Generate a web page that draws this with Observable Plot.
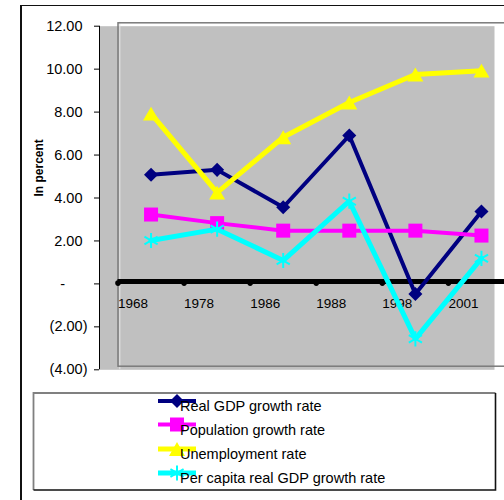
<!DOCTYPE html>
<html>
<head>
<meta charset="utf-8">
<script src="https://cdn.jsdelivr.net/npm/d3@7"></script>
<script src="https://cdn.jsdelivr.net/npm/@observablehq/plot@0.6"></script>
<style>
  html, body { margin: 0; padding: 0; background: #fff; overflow: hidden; width: 504px; height: 500px; }
  #outer { position: absolute; left: 20px; top: 5px; width: 700px; height: 700px;
           border-left: 2px solid #111; border-top: 1.5px solid #111; }
  #chart { position: absolute; left: 0; top: 0; width: 520px; }
  #chart svg { max-width: none !important; height: 390px !important; }
  #legend { position: absolute; left: 0; top: 0; }
</style>
</head>
<body>
<div id="outer"></div>
<div id="chart"></div>
<div id="legend"></div>
<script>
// Growth and unemployment indicators, in percent
const years = ["1968", "1978", "1986", "1988", "1998", "2001"];
const realGdp      = [5.08, 5.31, 3.57, 6.91, -0.47, 3.37];
const population   = [3.23, 2.83, 2.48, 2.48, 2.48, 2.25];
const unemployment = [7.93, 4.25, 6.83, 8.45, 9.75, 9.93];
const perCapitaGdp = [2.02, 2.55, 1.09, 3.85, -2.56, 1.19];
const seriesNames = ["Real GDP growth rate", "Population growth rate", "Unemployment rate", "Per capita real GDP growth rate"];
const yTicks = [12, 10, 8, 6, 4, 2, 0, -2, -4];

const font = "Arial, 'Liberation Sans', sans-serif";

// Marker shapes centred on their bounding box
const diamond = {
  draw(ctx, size) {
    const s = Math.sqrt(size / 2);
    ctx.moveTo(0, -s); ctx.lineTo(s, 0); ctx.lineTo(0, s); ctx.lineTo(-s, 0); ctx.closePath();
  }
};
const triangle = {
  draw(ctx, size) {
    const side = Math.sqrt(size * 4 / Math.sqrt(3));
    const h = side * Math.sqrt(3) / 2;
    ctx.moveTo(0, -h / 2); ctx.lineTo(side / 2, h / 2); ctx.lineTo(-side / 2, h / 2); ctx.closePath();
  }
};
const square = {
  draw(ctx, size) {
    const s = Math.sqrt(size) / 2;
    ctx.rect(-s, -s, 2 * s, 2 * s);
  }
};

const seriesValues = [realGdp, population, unemployment, perCapitaGdp];
const seriesStyle = [
  {color: "#000080", symbol: diamond,    r: 5.6,  lineWidth: 4, filled: true},
  {color: "#ff00ff", symbol: square,     r: 7.9,  lineWidth: 4, filled: true},
  {color: "#ffff00", symbol: triangle,   r: 5.95, lineWidth: 5, filled: true},
  {color: "#00ffff", symbol: "asterisk", r: 7.2,  lineWidth: 5, filled: false}
];

const rows = seriesNames.map((name, k) =>
  seriesValues[k].map((v, i) => ({series: name, year: years[i], pos: i + 0.5, value: v}))
);

const seriesMarks = rows.flatMap((data, k) => {
  const s = seriesStyle[k];
  return [
    Plot.line(data, {x: "pos", y: "value", stroke: s.color, strokeWidth: s.lineWidth, strokeLinejoin: "miter"}),
    s.filled
      ? Plot.dot(data, {x: "pos", y: "value", symbol: s.symbol, r: s.r, fill: s.color, stroke: "none"})
      : Plot.dot(data, {x: "pos", y: "value", symbol: s.symbol, r: s.r, fill: "none", stroke: s.color, strokeWidth: 2})
  ];
});

const plot = Plot.plot({
  width: 514,
  height: 390,
  marginLeft: 117.5,
  marginRight: 0,
  marginTop: 25.7,
  marginBottom: 20.7,
  x: {domain: [0, 6], axis: null},
  y: {domain: [-4, 12], axis: null},
  style: {fontFamily: font, fontSize: "14px", color: "#000", background: "transparent",
          overflow: "visible", maxWidth: "none"},
  marks: [
    // grey plot area, reaching back to the value axis
    Plot.frame({fill: "#c0c0c0", stroke: "none", insetLeft: -18.5, insetRight: 20}),
    // inner panel outline with a light edge inside it
    Plot.ruleX([0], {y1: -4, y2: 12, dx: 1.8, insetBottom: 4, stroke: "#e6e6e6", strokeWidth: 1}),
    Plot.frame({fill: "none", stroke: "#7a7a7a", strokeWidth: 1.5, insetTop: -3.4, insetBottom: 3.6, insetRight: -20}),
    // value axis
    Plot.ruleX([0], {y1: -4, y2: 12, dx: -18.5, stroke: "#000", strokeWidth: 1}),
    Plot.axisY({ticks: yTicks, tickSize: 5, tickFormat: () => "", dx: -18.5, label: null}),
    Plot.axisY({ticks: yTicks.filter(d => d > 0), tickSize: 0, tickPadding: 17, dx: -18.5,
                tickFormat: d3.format(".2f"), fontSize: 14.5, label: null}),
    Plot.axisY({ticks: yTicks.filter(d => d < 0), tickSize: 0, tickPadding: 12, dx: -18.5,
                tickFormat: d => `(${Math.abs(d).toFixed(2)})`, fontSize: 14.5, label: null}),
    Plot.axisY({ticks: [0], tickSize: 0, tickPadding: 34.5, dx: -18.5,
                tickFormat: () => "-", fontSize: 14.5, label: null}),
    Plot.text(["In percent"], {frameAnchor: "left", rotate: -90, dx: -78.5, dy: -1.5,
                               fontWeight: "bold", fontSize: 12}),
    // category axis drawn along zero
    Plot.ruleY([0], {stroke: "#000", strokeWidth: 5, dy: -2.5}),
    Plot.dot(years, {x: (d, i) => i, y: () => 0, r: 2.8, fill: "#000", stroke: "none", dy: -0.8}),
    Plot.text(years, {x: (d, i) => i, y: () => 0, text: d => d, textAnchor: "start",
                      dy: 19.5, fontSize: 13.5}),
    ...seriesMarks
  ]
});
document.getElementById("chart").append(plot);

// Legend box under the plot
const lg = d3.select("#legend").append("svg")
  .attr("width", 504).attr("height", 500)
  .style("font-family", font).style("font-size", "14.5px");
const box = {x0: 33.5, y0: 393, x1: 495.5, y1: 490};
lg.append("rect").attr("x", box.x0).attr("y", box.y0)
  .attr("width", box.x1 - box.x0).attr("height", box.y1 - box.y0)
  .attr("fill", "#fff").attr("stroke", "none");
lg.append("path").attr("d", `M${box.x0},${box.y1}V${box.y0}H${box.x1}`)
  .attr("fill", "none").attr("stroke", "#808080").attr("stroke-width", 1.8);
lg.append("path").attr("d", `M${box.x1},${box.y0}V${box.y1}H${box.x0}`)
  .attr("fill", "none").attr("stroke", "#111").attr("stroke-width", 1.6);
const rowY = [401, 424.5, 449, 473];
seriesNames.forEach((name, k) => {
  const s = seriesStyle[k];
  const g = lg.append("g").attr("transform", `translate(0,${rowY[k]})`);
  g.append("line").attr("x1", 158).attr("x2", 196).attr("y1", 0).attr("y2", 0)
    .attr("stroke", s.color).attr("stroke-width", s.lineWidth);
  const sym = typeof s.symbol === "string" ? d3.symbolAsterisk : s.symbol;
  g.append("path").attr("transform", "translate(177,0)")
    .attr("d", d3.symbol(sym, Math.PI * s.r * s.r)())
    .attr("fill", s.filled ? s.color : "none")
    .attr("stroke", s.filled ? "none" : s.color).attr("stroke-width", 2);
  g.append("text").attr("x", 180).attr("y", 10).attr("fill", "#000").text(name);
});
</script>
</body>
</html>
